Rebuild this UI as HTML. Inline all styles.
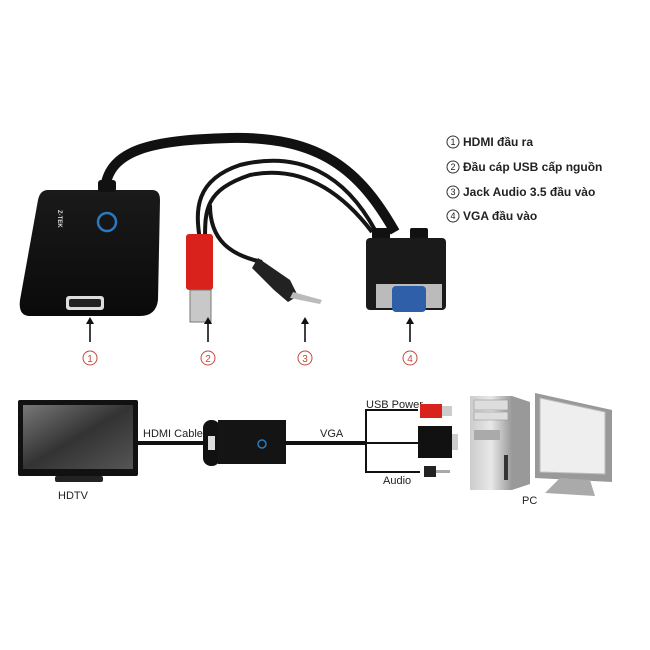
<!DOCTYPE html>
<html><head><meta charset="utf-8"><style>
html,body{margin:0;padding:0;background:#fff;}
svg{display:block}
text{font-family:"Liberation Sans","DejaVu Sans",sans-serif}
</style></head><body>
<svg width="650" height="650" viewBox="0 0 650 650" xmlns="http://www.w3.org/2000/svg">
<defs>
<linearGradient id="tv" x1="0" y1="0" x2="1" y2="1"><stop offset="0" stop-color="#777"/><stop offset="0.5" stop-color="#333"/><stop offset="1" stop-color="#555"/></linearGradient>
<linearGradient id="dev" x1="0" y1="0" x2="0" y2="1"><stop offset="0" stop-color="#1a1a1a"/><stop offset="1" stop-color="#0a0a0a"/></linearGradient>
<linearGradient id="gray" x1="0" y1="0" x2="1" y2="0"><stop offset="0" stop-color="#ccc"/><stop offset="0.5" stop-color="#e8e8e8"/><stop offset="1" stop-color="#999"/></linearGradient>
</defs>
<rect width="650" height="650" fill="#fff"/>

<!-- Top cables -->
<path d="M105 188 C110 150 150 140 230 138 C320 136 360 170 395 232" stroke="#111" stroke-width="10" fill="none"/>
<path d="M200 240 C195 210 195 180 240 165 C300 150 345 175 375 230" stroke="#151515" stroke-width="4" fill="none"/>
<path d="M205 240 C205 210 205 190 250 175 C300 165 340 190 372 232" stroke="#151515" stroke-width="4" fill="none"/>
<path d="M210 205 C210 240 230 255 262 262" stroke="#151515" stroke-width="4" fill="none"/>

<!-- Device -->
<path d="M48 190 L152 190 Q160 190 160 200 L158 300 Q156 316 140 316 L30 316 Q18 316 20 300 L38 200 Q40 190 48 190 Z" fill="url(#dev)"/>
<rect x="98" y="180" width="18" height="12" rx="3" fill="#111"/>
<rect x="66" y="296" width="38" height="14" rx="3" fill="#ddd"/>
<rect x="69" y="299" width="32" height="8" rx="2" fill="#222"/>
<circle cx="107" cy="222" r="9" fill="none" stroke="#2a7ac0" stroke-width="2.5"/>
<text x="58" y="210" font-size="6" fill="#ddd" font-weight="bold" transform="rotate(90 58 210)">Z-TEK</text>

<!-- USB -->
<rect x="186" y="234" width="27" height="56" rx="3" fill="#d9221c"/>
<rect x="190" y="290" width="21" height="32" fill="#c8c8c8" stroke="#777" stroke-width="1"/>
<!-- Audio plug -->
<path d="M258 258 L290 280 L298 296 L288 302 L274 290 L252 268 Z" fill="#222"/>
<path d="M293 292 L322 300 L320 304 L290 298 Z" fill="#bbb"/>
<!-- VGA -->
<rect x="372" y="228" width="18" height="14" rx="2" fill="#111"/>
<rect x="410" y="228" width="18" height="14" rx="2" fill="#111"/>
<rect x="366" y="238" width="80" height="72" rx="4" fill="#1a1a1a"/>
<rect x="376" y="284" width="66" height="24" fill="#bbb"/>
<rect x="392" y="286" width="34" height="26" rx="4" fill="#2f5fa8"/>

<!-- arrows -->
<g stroke="#111" stroke-width="1.6">
<line x1="90" y1="342" x2="90" y2="322"/><line x1="208" y1="342" x2="208" y2="322"/><line x1="305" y1="342" x2="305" y2="322"/><line x1="410" y1="342" x2="410" y2="322"/>
</g>
<g fill="#111">
<path d="M86 324 L90 317 L94 324Z"/><path d="M204 324 L208 317 L212 324Z"/><path d="M301 324 L305 317 L309 324Z"/><path d="M406 324 L410 317 L414 324Z"/>
</g>
<g fill="none" stroke="#c24a3a" stroke-width="1"><circle cx="90" cy="358" r="7"/><circle cx="208" cy="358" r="7"/><circle cx="305" cy="358" r="7"/><circle cx="410" cy="358" r="7"/></g>
<g font-size="10" fill="#c24a3a" text-anchor="middle"><text x="90" y="362">1</text><text x="208" y="362">2</text><text x="305" y="362">3</text><text x="410" y="362">4</text></g>

<!-- legend -->
<g fill="none" stroke="#333" stroke-width="1"><circle cx="453" cy="142" r="6"/><circle cx="453" cy="167" r="6"/><circle cx="453" cy="192" r="6"/><circle cx="453" cy="216" r="6"/></g>
<g font-size="9" fill="#222" text-anchor="middle"><text x="453" y="145">1</text><text x="453" y="170">2</text><text x="453" y="195">3</text><text x="453" y="219">4</text></g>
<g font-size="12" font-weight="bold" fill="#222">
<text x="463" y="146">HDMI đầu ra</text>
<text x="463" y="171">Đầu cáp USB cấp nguồn</text>
<text x="463" y="196">Jack Audio 3.5 đầu vào</text>
<text x="463" y="220">VGA đầu vào</text>
</g>

<!-- Bottom: TV -->
<rect x="18" y="400" width="120" height="76" rx="2" fill="#111"/>
<rect x="23" y="405" width="110" height="64" fill="url(#tv)"/>
<rect x="55" y="476" width="48" height="6" rx="2" fill="#222"/>
<text x="58" y="499" font-size="11" fill="#222">HDTV</text>
<line x1="137" y1="443" x2="205" y2="443" stroke="#111" stroke-width="4"/>
<text x="143" y="437" font-size="11" fill="#222">HDMI Cable</text>
<rect x="203" y="420" width="17" height="46" rx="8" fill="#111"/>
<rect x="208" y="436" width="7" height="14" fill="#ddd"/>
<rect x="218" y="420" width="68" height="44" fill="#141414"/>
<circle cx="262" cy="444" r="4" fill="none" stroke="#2a7ac0" stroke-width="1.5"/>
<line x1="285" y1="443" x2="366" y2="443" stroke="#111" stroke-width="4"/>
<text x="320" y="437" font-size="11" fill="#222">VGA</text>
<path d="M418 410 L366 410 L366 472 L420 472 M366 443 L418 443" stroke="#111" stroke-width="2" fill="none"/>
<text x="366" y="408" font-size="11" fill="#222">USB Power</text>
<text x="383" y="484" font-size="11" fill="#222">Audio</text>
<rect x="420" y="404" width="22" height="14" fill="#d9221c"/>
<rect x="442" y="406" width="10" height="10" fill="#ccc"/>
<rect x="418" y="426" width="34" height="32" fill="#111"/>
<rect x="452" y="434" width="6" height="16" fill="#ccc"/>
<rect x="424" y="466" width="12" height="11" fill="#222"/>
<rect x="436" y="470" width="14" height="3" fill="#aaa"/>

<!-- PC tower -->
<path d="M470 396 L512 396 L530 402 L530 484 L512 490 L470 490 Z" fill="#999"/>
<rect x="470" y="396" width="42" height="94" fill="url(#gray)"/>
<rect x="474" y="400" width="34" height="10" fill="#ddd" stroke="#888" stroke-width="0.5"/>
<rect x="474" y="412" width="34" height="8" fill="#ddd" stroke="#888" stroke-width="0.5"/>
<rect x="474" y="430" width="26" height="10" fill="#aaa"/>
<rect x="504" y="455" width="4" height="25" fill="#333"/>
<!-- monitor -->
<path d="M535 393 L612 410 L612 482 L535 478 Z" fill="#999"/>
<path d="M540 398 L605 412 L605 474 L540 472 Z" fill="#eee" stroke="#bbb"/>
<path d="M560 478 L590 480 L595 496 L545 493 Z" fill="#aaa"/>
<text x="522" y="504" font-size="11" fill="#222">PC</text>
</svg>
</body></html>
